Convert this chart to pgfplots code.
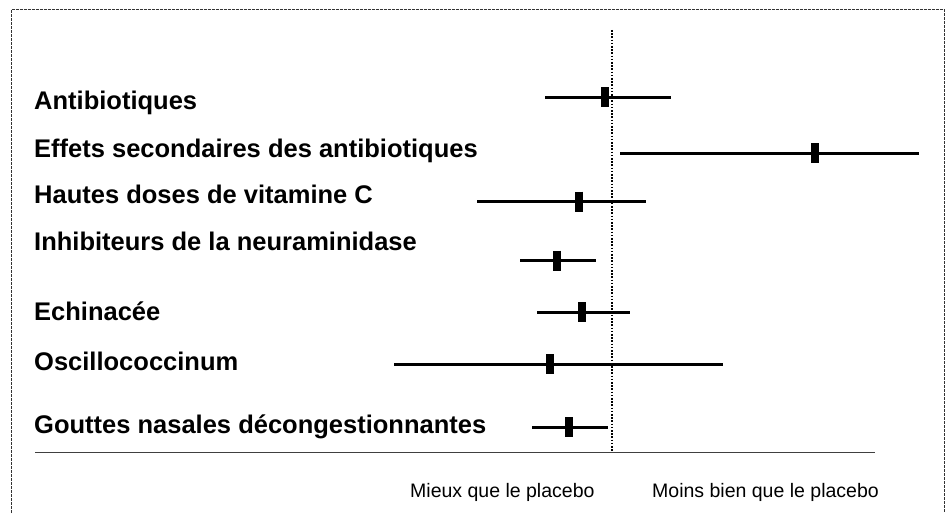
\documentclass[border=0pt]{standalone}
\usepackage{fontspec}
\setmainfont{Liberation Sans}
\usepackage{pgfplots}
\pgfplotsset{compat=1.18}
\begin{document}
\begin{tikzpicture}
\begin{axis}[
  width=952pt, height=513pt, scale only axis,
  xmin=0, xmax=952, ymin=0, ymax=513, y dir=reverse,
  axis line style={draw=none}, ticks=none, clip=false,
]
% frame
\draw[line width=0.8pt, dash pattern=on 3pt off 1pt, black!80]
  (axis cs:11,513) -- (axis cs:11,9.5) -- (axis cs:944,9.5) -- (axis cs:944,513);
% reference (dotted) line
\addplot[line width=1.6pt, dash pattern=on 1.6pt off 1.6pt, black] coordinates {(612,30) (612,452)};
% bottom rule
\addplot[line width=1.6pt, black!75] coordinates {(35,452.5) (875,452.5)};
% estimates with intervals
\addplot[only marks, mark=|, mark size=10pt, mark options={line width=8pt, black},
  error bars/.cd, x dir=both, x explicit, error mark=none,
  error bar style={line width=3pt, black}]
coordinates {
  (604.5,97.3)  += (66.5,0) -= (59.5,0)
  (815,153)     += (104,0)  -= (195,0)
  (579,201.7)   += (67,0)   -= (102,0)
  (556.5,260.7) += (39.5,0) -= (36.5,0)
  (581.5,312)   += (48.5,0) -= (44.5,0)
  (550,364)     += (173,0)  -= (156,0)
  (568.5,427)   += (39.2,0) -= (36.8,0)
};
% labels
\begin{scope}[every node/.style={anchor=base west, inner sep=0pt, font=\fontsize{25.5}{30}\selectfont\bfseries}]
\node at (axis cs:34,110) {Antibiotiques};
\node at (axis cs:34,157) {Effets secondaires des antibiotiques};
\node at (axis cs:34,203) {Hautes doses de vitamine C};
\node at (axis cs:34,250) {Inhibiteurs de la neuraminidase};
\node at (axis cs:34,320) {Echinacée};
\node at (axis cs:34,370) {Oscillococcinum};
\node at (axis cs:34,433) {Gouttes nasales décongestionnantes};
\end{scope}
\node[anchor=base west, inner sep=0pt, font=\fontsize{19.5}{23}\selectfont] at (axis cs:410,497) {Mieux que le placebo};
\node[anchor=base west, inner sep=0pt, font=\fontsize{19.5}{23}\selectfont] at (axis cs:652,497) {Moins bien que le placebo};
\end{axis}
\end{tikzpicture}
\end{document}
